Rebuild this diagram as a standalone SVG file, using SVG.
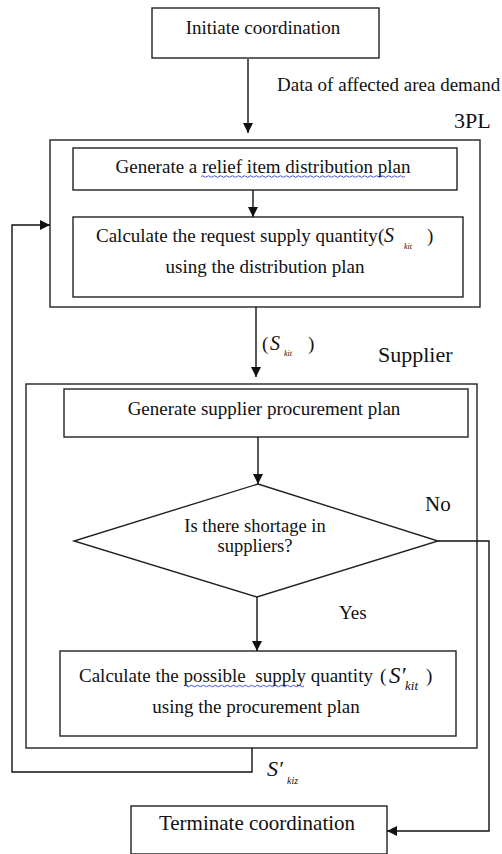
<svg xmlns="http://www.w3.org/2000/svg" width="502" height="854" viewBox="0 0 502 854">
<defs>
<marker id="ah" viewBox="0 0 10 10" refX="10" refY="5" markerWidth="10" markerHeight="10" markerUnits="userSpaceOnUse" orient="auto">
<path d="M0,0 L10,5 L0,10 Z" fill="#111"/>
</marker>
<style>
.box{fill:#fff;stroke:#222;stroke-width:1.4}
.frame{fill:none;stroke:#222;stroke-width:1.4}
.ln{fill:none;stroke:#111;stroke-width:1.4}
.t{font-family:"Liberation Serif","Times New Roman",serif;font-size:19px;fill:#111}
.c{text-anchor:middle}
.it{font-style:italic}
.wavy{fill:none;stroke:#3344cc;stroke-width:0.9}
</style>
</defs>
<rect width="502" height="854" fill="#fff"/>

<g id="frame-3pl">
<rect class="frame" x="50" y="140" width="430" height="167"/>
<text class="t" x="454" y="128" style="font-size:22px">3PL</text>
</g>
<g id="frame-supplier">
<rect class="frame" x="26" y="384" width="451" height="364"/>
<text class="t" x="378" y="362" style="font-size:22px">Supplier</text>
</g>

<g id="n-initiate">
<rect class="box" x="152" y="8" width="227" height="50"/>
<text class="t c" x="263" y="34">Initiate coordination</text>
</g>

<g id="n-gen-dist">
<rect class="box" x="73" y="148" width="384" height="42"/>
<text class="t c" x="263" y="173">Generate a relief item distribution plan</text>
<path class="wavy" d="M201,176.5 q1.5,-1.5 3,0 t3,0 t3,0 t3,0 t3,0 t3,0 t3,0 t3,0 t3,0 t3,0 t3,0 t3,0 t3,0 t3,0 t3,0 t3,0 t3,0 t3,0 t3,0 t3,0 t3,0 t3,0 t3,0 t3,0 t3,0 t3,0 t3,0 t3,0 t3,0 t3,0 t3,0 t3,0 t3,0 t3,0 t3,0 t3,0 t3,0 t3,0 t3,0 t3,0 t3,0 t3,0 t3,0 t3,0 t3,0 t3,0 t3,0 t3,0 t3,0 t3,0 t3,0 t3,0 t3,0 t3,0 t3,0 t3,0 t3,0 t3,0 t3,0 t3,0 t3,0 t3,0 t3,0 t3,0 t3,0 t3,0 t3,0 t3,0"/>
</g>

<g id="n-calc-request">
<rect class="box" x="73" y="217" width="390" height="80"/>
<text class="t" x="96" y="242">Calculate the request supply quantity</text>
<text class="t" x="378" y="242">(</text>
<text class="t it" x="384" y="242" style="font-size:20px">S</text>
<text class="t it" x="404" y="249" style="font-size:8px">kit</text>
<text class="t" x="427" y="242">)</text>
<text class="t c" x="265" y="273">using the distribution plan</text>
</g>

<g id="n-gen-proc">
<rect class="box" x="64" y="389" width="404" height="48"/>
<text class="t c" x="264" y="415">Generate supplier procurement plan</text>
</g>

<g id="n-decision">
<polygon class="box" points="258,484 438,541 257,597 74,541"/>
<text class="t c" x="255" y="532" style="font-size:18.5px">Is there shortage in</text>
<text class="t c" x="255" y="552" style="font-size:18.5px">suppliers?</text>
</g>

<g id="n-calc-possible">
<rect class="box" x="60" y="651" width="396" height="85"/>
<text class="t" x="79" y="682" xml:space="preserve">Calculate the possible  supply quantity</text>
<text class="t" x="380" y="682">(</text>
<text class="t it" x="389" y="683" style="font-size:23px">S′</text>
<text class="t it" x="405" y="690" style="font-size:13px">kit</text>
<text class="t" x="426" y="682">)</text>
<path class="wavy" d="M184,686 q1.5,-1.5 3,0 t3,0 t3,0 t3,0 t3,0 t3,0 t3,0 t3,0 t3,0 t3,0 t3,0 t3,0 t3,0 t3,0 t3,0 t3,0 t3,0 t3,0 t3,0 t3,0 t3,0 t3,0 t3,0 t3,0 t3,0 t3,0 t3,0 t3,0 t3,0 t3,0 t3,0 t3,0 t3,0 t3,0 t3,0 t3,0 t3,0 t3,0 t3,0 t3,0"/>
<text class="t c" x="256" y="713">using the procurement plan</text>
</g>

<g id="n-terminate">
<rect class="box" x="131" y="806" width="256" height="48"/>
<text class="t c" x="257" y="830" style="font-size:21px">Terminate coordination</text>
</g>

<g id="connectors">
<line class="ln" x1="248" y1="59" x2="248" y2="133" marker-end="url(#ah)"/>
<text class="t" x="277" y="91">Data of affected area demand</text>
<line class="ln" x1="253" y1="190" x2="253" y2="217" marker-end="url(#ah)"/>
<line class="ln" x1="256" y1="307" x2="256" y2="377" marker-end="url(#ah)"/>
<text class="t" x="262" y="350">(</text>
<text class="t it" x="270" y="350" style="font-size:20px">S</text>
<text class="t it" x="284" y="356" style="font-size:8px">kit</text>
<text class="t" x="308" y="350">)</text>
<line class="ln" x1="258" y1="437" x2="258" y2="484" marker-end="url(#ah)"/>
<line class="ln" x1="257" y1="597" x2="257" y2="651" marker-end="url(#ah)"/>
<text class="t" x="339" y="619">Yes</text>
<polyline class="ln" points="438,541 489,541 489,831 387,831" marker-end="url(#ah)"/>
<text class="t" x="425" y="511" style="font-size:21px">No</text>
<polyline class="ln" points="252,748 252,772 12,772 12,225 50,225" marker-end="url(#ah)"/>
<text class="t it" x="267" y="776" style="font-size:22px">S′</text>
<text class="t it" x="287" y="784" style="font-size:10px">kiz</text>
</g>
</svg>
